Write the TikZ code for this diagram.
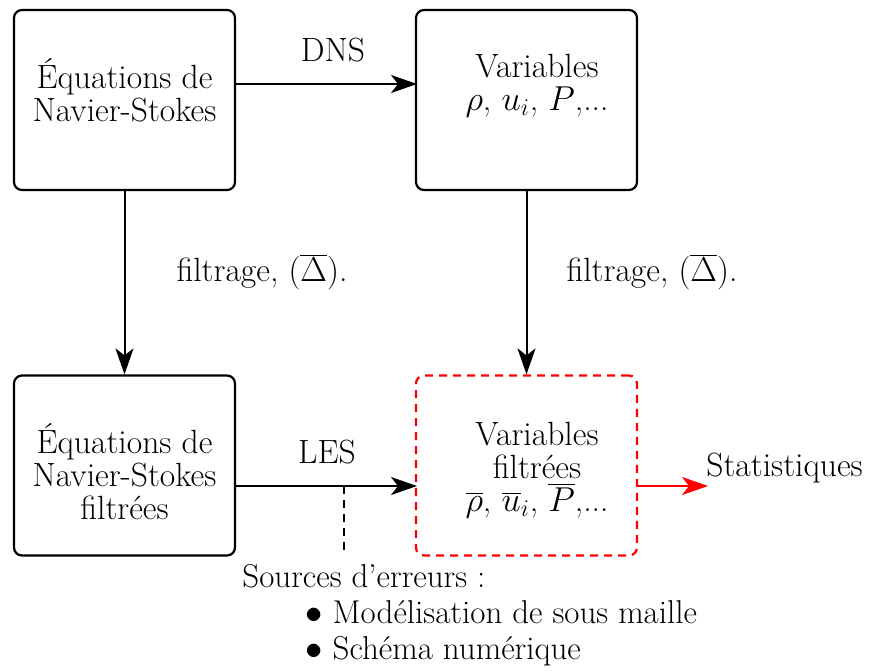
\documentclass[tikz,border=0pt]{standalone}
\usepackage{fontspec}
\usetikzlibrary{arrows.meta}
\begin{document}
\begin{tikzpicture}[x=0.5pt,y=-0.5pt,
  box/.style={draw,line width=1.1pt,rounded corners=4pt,minimum width=110.5pt,minimum height=90pt,inner sep=0pt},
  redbox/.style={draw=red,line width=1.1pt,dashed,dash pattern=on 4pt off 3pt,rounded corners=4pt,minimum width=110.5pt,minimum height=90pt,inner sep=0pt},
  txt/.style={align=center,font=\fontsize{16.8}{16.5}\selectfont,inner sep=0pt},
  srcline/.style={anchor=west,inner sep=0pt,font=\fontsize{16.5}{18}\selectfont,text height=11.5pt,text depth=3.5pt},
  conn/.style={line width=1pt,-{Stealth[length=13pt,width=9pt,inset=3.5pt]}},
  redconn/.style={draw=red,line width=1pt,-{Stealth[length=13pt,width=9pt,inset=3.5pt]}}]
\useasboundingbox (0,0) rectangle (872,671);
\node[box] (b1) at (124.5,100) {};
\node[box] (b2) at (526.5,100) {};
\node[box] (b3) at (124.5,465.5) {};
\node[redbox] (b4) at (526.5,465.5) {};
\node[txt] (t1) at (124.5,90) {Équations de\\Navier-Stokes};
\node[txt] (t2) at (537,86) {Variables\\$\rho$, $u_i$, $P$,...};
\node[txt] (t3) at (124.5,472) {Équations de\\Navier-Stokes\\filtrées};
\node[txt] (t4) at (537,470) {Variables\\filtrées\\$\overline{\rho}$, $\overline{u}_i$, $\overline{P}$,...};
\coordinate (a1s) at (235,84); \coordinate (a1e) at (417,84);
\draw[conn] (a1s) -- (a1e);
\node[txt] (dns) at (333,50) {DNS};
\draw[conn] (b1.south) -- (b3.north);
\node[txt] (f1) at (262,272) {filtrage, ($\overline{\Delta}$).};
\draw[conn] (b2.south) -- (b4.north);
\node[txt] (f2) at (652,272) {filtrage, ($\overline{\Delta}$).};
\coordinate (a2s) at (235,486); \coordinate (a2e) at (417,486);
\draw[conn] (a2s) -- (a2e);
\node[txt] (les) at (327,452) {LES};
\coordinate (d1) at (344,486); \coordinate (d2) at (344,555);
\draw[line width=0.8pt,dash pattern=on 4pt off 3pt] (d1) -- (d2);
\coordinate (r1) at (636,486); \coordinate (r2) at (708,486);
\draw[redconn] (r1) -- (r2);
\node[txt,anchor=west] (stat) at (706,468) {Statistiques};
\node[srcline] (src) at (242,579) {Sources d’erreurs :};
\node[srcline] (m1) at (305,615) {$\bullet$ Modélisation de sous maille};
\node[srcline] (m2) at (305,651) {$\bullet$ Schéma numérique};
\end{tikzpicture}
\end{document}
